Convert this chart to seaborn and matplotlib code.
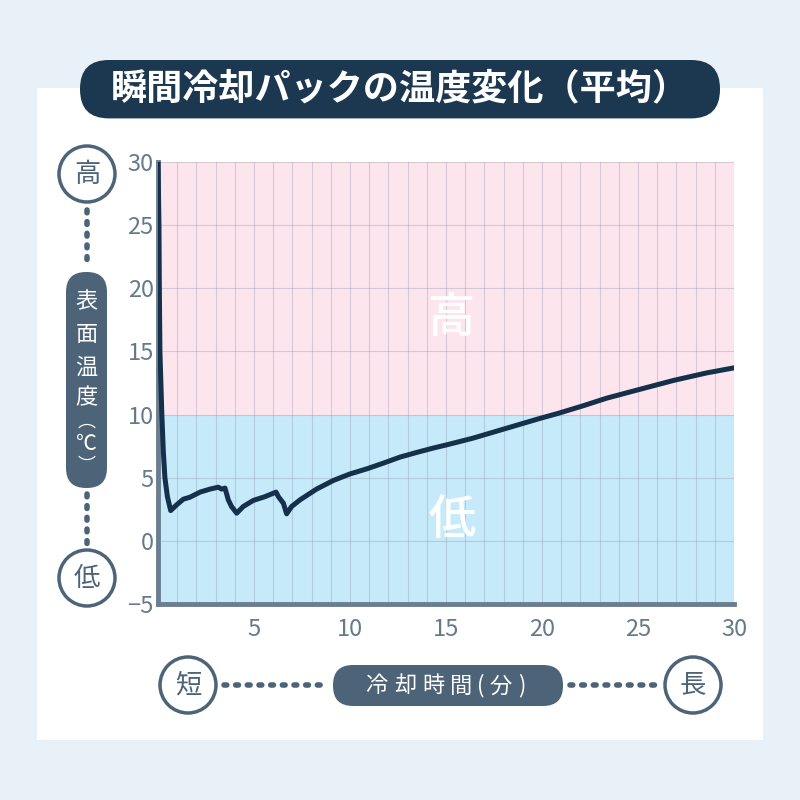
import numpy as np
import pandas as pd
import matplotlib
matplotlib.use("Agg")
import matplotlib.pyplot as plt
import seaborn as sns
from matplotlib.patches import Circle, FancyBboxPatch, Rectangle
from matplotlib.lines import Line2D

# data
time_min = [0, 0.05, 0.07, 0.1, 0.2, 0.28, 0.36, 0.49, 0.66, 0.97, 1.32, 1.67, 2.19, 2.71,
            3.14, 3.31, 3.49, 3.66, 3.83, 4.1, 4.44, 4.96, 5.57, 6.15, 6.27, 6.53, 6.7,
            6.96, 7.4, 8.26, 9.13, 10.0, 10.87, 11.73, 12.6, 13.47, 14.34, 15.03, 16.4,
            18.16, 19.9, 20.85, 22.15, 23.37, 25.1, 26.84, 28.58, 30.0]
temp_c = [30, 25, 20, 15, 10, 7, 5, 3.5, 2.4, 2.85, 3.3, 3.46, 3.86, 4.1,
          4.25, 4.1, 4.18, 3.25, 2.72, 2.19, 2.72, 3.2, 3.5, 3.86, 3.5, 2.98, 2.14,
          2.72, 3.25, 4.1, 4.78, 5.3, 5.7, 6.15, 6.63, 7.0, 7.35, 7.6, 8.13,
          8.92, 9.7, 10.1, 10.7, 11.3, 12.0, 12.7, 13.3, 13.7]
x_ticks = [5, 10, 15, 20, 25, 30]
y_ticks = [-5, 0, 5, 10, 15, 20, 25, 30]
threshold = 10

title = "瞬間冷却パックの温度変化（平均）"
y_label_chars = ["表", "面", "温", "度", "︵", "℃", "︶"]
x_label_chars = ["冷", "却", "時", "間", "(", "分", ")"]

NAVY = "#1b3850"
SLATE = "#4d6478"
TICK = "#667a8a"

sns.set_style("white")
plt.rcParams["font.family"] = ["Noto Sans CJK JP", "DejaVu Sans"]

fig = plt.figure(figsize=(8, 8), dpi=100)
fig.patch.set_facecolor("#e9f1f8")

# white panel behind everything
fig.patches.append(Rectangle((0.046, 0.075), 0.908, 0.815, transform=fig.transFigure,
                             facecolor="white", edgecolor="none", zorder=-5))

# title pill
fig.patches.append(FancyBboxPatch((0.1, 0.852), 0.8, 0.073, transform=fig.transFigure,
                                  boxstyle="round,pad=0,rounding_size=0.036",
                                  facecolor=NAVY, edgecolor="none", zorder=1))
fig.text(0.5, 0.889, title, ha="center", va="center", color="white",
         fontsize=26, fontweight="bold")

ax = fig.add_axes([0.1975, 0.245, 0.72, 0.5525])
ax.axhspan(threshold, 30, color="#fde5ee", zorder=0, lw=0)
ax.axhspan(-5, threshold, color="#c6eafa", zorder=0, lw=0)

df = pd.DataFrame({"time": time_min, "temp": temp_c})
sns.lineplot(data=df, x="time", y="temp", ax=ax, color="#14304a", lw=3.6,
             zorder=5, sort=False)

ax.set_xlim(0, 30)
ax.set_ylim(-5, 30)
ax.set_xticks(x_ticks)
ax.set_yticks(y_ticks)
ax.set_xticks(np.arange(0, 31, 1), minor=True)
ax.grid(which="minor", axis="x", color="#8a98a8", alpha=0.35, lw=0.8)
ax.grid(which="major", axis="both", color="#8a98a8", alpha=0.35, lw=0.8)
ax.set_axisbelow(True)
ax.set_xlabel("")
ax.set_ylabel("")

for s in ["top", "right"]:
    ax.spines[s].set_visible(False)
for s in ["left", "bottom"]:
    ax.spines[s].set_color("#6b7e8f")
    ax.spines[s].set_linewidth(3.5)
ax.tick_params(axis="both", which="major", direction="in", length=7, width=3,
               color="#6b7e8f", labelsize=17, labelcolor=TICK)
ax.tick_params(axis="x", which="minor", length=0)
ax.tick_params(axis="x", pad=10)
ax.tick_params(axis="y", pad=3)

ax.text(15.3, 17.6, "高", ha="center", va="center", color="white", fontsize=34,
        fontweight="medium")
ax.text(15.3, 1.6, "低", ha="center", va="center", color="white", fontsize=34,
        fontweight="medium")


def px(x, y):
    return x / 800, 1 - y / 800


def circle_label(cx, cy, ch):
    fx, fy = px(cx, cy)
    fig.patches.append(Circle((fx, fy), 28 / 800, transform=fig.transFigure,
                              facecolor="white", edgecolor=SLATE, lw=2.5, zorder=2))
    fig.text(fx, fy, ch, ha="center", va="center", color=SLATE, fontsize=19, zorder=3)


def dotted(x0, y0, x1, y1):
    a = px(x0, y0)
    b = px(x1, y1)
    fig.lines.append(Line2D([a[0], b[0]], [a[1], b[1]], transform=fig.transFigure,
                            color=SLATE, lw=4, linestyle=(0, (0.5, 1.6)),
                            solid_capstyle="round", dash_capstyle="round", zorder=1))


# y-axis decoration
circle_label(87, 174, "高")
circle_label(87, 578, "低")
dotted(87, 210, 87, 266)
dotted(87, 494, 87, 544)
fx, fy = px(66, 488)
fig.patches.append(FancyBboxPatch((fx, fy), 41 / 800, 216 / 800, transform=fig.transFigure,
                                  boxstyle="round,pad=0,rounding_size=0.025",
                                  facecolor=SLATE, edgecolor="none", zorder=2))
for ch, yy, fs in zip(y_label_chars, [302, 335, 367, 398, 422, 444, 466],
                      [16, 16, 16, 16, 13, 15, 13]):
    fig.text(*px(86.5, yy), ch, ha="center", va="center", color="white",
             fontsize=fs, zorder=3)

# x-axis decoration
circle_label(188, 685, "短")
circle_label(693, 685, "長")
dotted(224, 685, 326, 685)
dotted(570, 685, 658, 685)
fx, fy = px(333, 706)
fig.patches.append(FancyBboxPatch((fx, fy), 230 / 800, 41 / 800, transform=fig.transFigure,
                                  boxstyle="round,pad=0,rounding_size=0.025",
                                  facecolor=SLATE, edgecolor="none", zorder=2))
for ch, xx in zip(x_label_chars, [376, 405, 433, 461, 481, 501, 522]):
    fig.text(*px(xx, 686), ch, ha="center", va="center", color="white",
             fontsize=16, zorder=3)

fig.savefig("out.png", dpi=100, facecolor=fig.get_facecolor())
